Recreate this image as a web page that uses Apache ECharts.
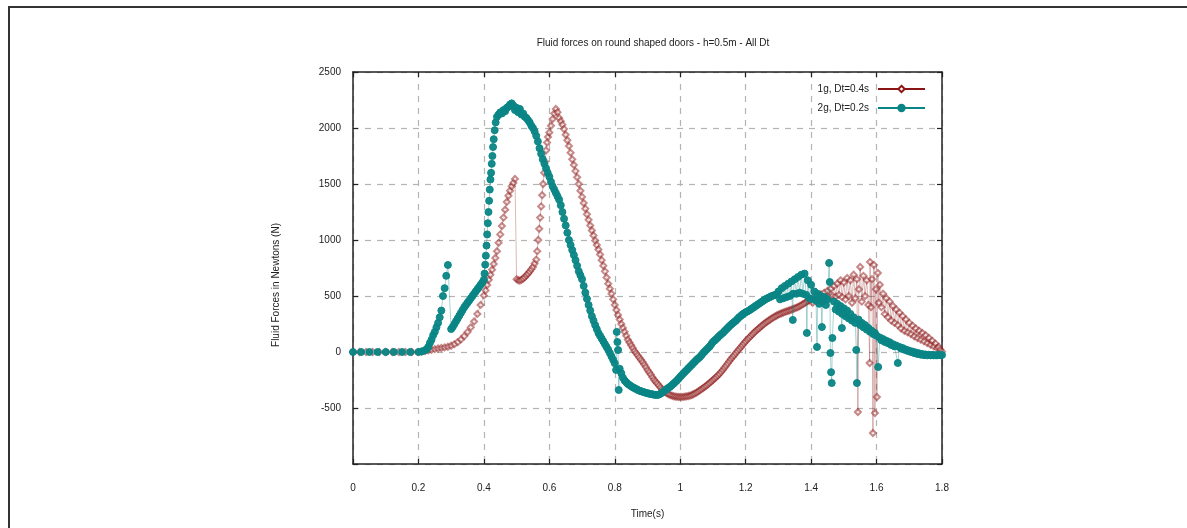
<!DOCTYPE html>
<html>
<head>
<meta charset="utf-8">
<script src="https://cdn.jsdelivr.net/npm/echarts@6/dist/echarts.min.js"></script>
<style>
html,body{margin:0;padding:0;background:#fff;}
#chart{width:1187px;height:528px;}
</style>
</head>
<body>
<div id="chart"></div>
<script>
// ---- data ----
var chartTitle = 'Fluid forces on round shaped doors - h=0.5m - All Dt';
var xName = 'Time(s)';
var yName = 'Fluid Forces in Newtons (N)';
var seriesNames = ['1g, Dt=0.4s', '2g, Dt=0.2s'];
var xTicks = [0, 0.2, 0.4, 0.6, 0.8, 1, 1.2, 1.4, 1.6, 1.8];
var yTicks = [-500, 0, 500, 1000, 1500, 2000, 2500];

// series 1 : 1g, Dt=0.4s
var t1 = [0,0.02,0.04,0.06,0.08,0.1,0.12,0.14,0.16,0.18,0.2,
0.21,0.22,0.23,0.24,0.25,0.26,0.27,0.28,0.29,0.3,0.31,0.32,0.33,0.34,0.35,0.36,0.37,0.38,0.39,
0.4,0.405,0.41,0.415,0.42,0.425,0.43,0.435,0.44,0.445,0.45,0.455,0.46,0.465,0.47,0.475,0.48,0.485,0.49,0.495,
0.5,0.505,0.51,0.515,0.52,0.525,0.53,0.535,0.54,0.545,0.55,0.555,0.56,0.563,0.566,0.569,0.572,0.575,0.578,0.581,0.584,0.587,0.59,0.593,0.596,
0.6,0.605,0.61,0.615,0.62,0.625,0.63,0.635,0.64,0.645,0.65,0.655,0.66,0.665,0.67,0.675,0.68,0.685,0.69,0.695,
0.7,0.705,0.71,0.715,0.72,0.725,0.73,0.735,0.74,0.745,0.75,0.755,0.76,0.765,0.77,0.775,0.78,0.785,0.79,0.795,
0.8,0.805,0.81,0.815,0.82,0.825,0.83,0.835,0.84,0.845,0.85,0.855,0.86,0.865,0.87,0.875,0.88,0.885,0.89,0.895,
0.9,0.905,0.91,0.915,0.92,0.925,0.93,0.935,0.94,0.945,0.95,0.955,0.96,0.965,0.97,0.975,0.98,0.985,0.99,0.995,
1.0,1.005,1.01,1.015,1.02,1.025,1.03,1.035,1.04,1.045,1.05,1.055,1.06,1.065,1.07,1.075,1.08,1.085,1.09,1.095,
1.1,1.105,1.11,1.115,1.12,1.125,1.13,1.135,1.14,1.145,1.15,1.155,1.16,1.165,1.17,1.175,1.18,1.185,1.19,1.195,
1.2,1.205,1.21,1.215,1.22,1.225,1.23,1.235,1.24,1.245,1.25,1.255,1.26,1.265,1.27,1.275,1.28,1.285,1.29,1.295,
1.3,1.305,1.31,1.315,1.32,1.325,1.33,1.335,1.34,1.345,1.35,1.355,1.36,1.365,1.37,1.375,1.38,1.385,1.39,1.395,
1.4,1.405,1.41,1.415,1.42,1.425,1.43,1.435,1.44,1.445,1.45,1.455,1.46,1.465,1.47,1.475,1.48,1.485,1.49,1.495,
1.5,1.505,1.51,1.515,1.52,1.525,1.53,1.535,1.54,1.543,1.546,1.55,1.555,1.56,1.565,1.57,1.575,1.579,1.58,1.583,1.586,1.589,1.592,1.595,1.598,
1.601,1.604,1.607,1.61,1.615,1.62,1.625,1.63,1.635,1.64,1.645,1.65,1.655,1.66,1.665,1.67,1.675,1.68,1.685,1.69,1.695,
1.7,1.705,1.71,1.715,1.72,1.725,1.73,1.735,1.74,1.745,1.75,1.755,1.76,1.765,1.77,1.775,1.78,1.785,1.79,1.795,1.8];
var f1 = [0,0,0,0,0,0,0,0,0,0,0,
3,8,14,20,26,31,36,41,47,56,70,88,112,142,178,220,272,340,420,
505,550,598,645,690,735,785,840,900,975,1050,1125,1200,1270,1340,1395,1440,1480,1510,1545,
650,640,638,645,655,668,685,700,718,738,760,790,825,900,1000,1100,1200,1300,1400,1500,1600,1700,1800,1870,1920,
1960,2020,2080,2130,2170,2140,2090,2060,2030,1990,1940,1890,1840,1780,1720,1670,1615,1560,1500,1440,
1385,1330,1280,1230,1180,1130,1085,1040,995,955,915,870,820,770,720,665,610,565,520,470,
420,375,330,290,250,215,180,145,110,85,60,35,10,-10,-30,-50,-70,-90,-112,-135,
-160,-180,-202,-225,-248,-265,-282,-300,-318,-335,-350,-360,-370,-378,-385,-390,-395,-398,-400,-401,
-402,-401,-400,-398,-396,-393,-390,-384,-377,-370,-362,-352,-342,-332,-322,-311,-300,-288,-276,-263,
-250,-237,-224,-210,-195,-178,-160,-141,-122,-102,-82,-63,-45,-28,-10,8,25,43,60,78,
95,111,126,141,156,171,185,198,210,223,236,248,260,270,280,290,300,309,318,326,
334,340,346,352,358,363,368,373,378,384,390,396,402,410,418,427,436,446,455,462,
470,440,495,455,505,465,515,475,530,485,545,490,565,500,590,495,610,510,640,490,
620,470,660,500,640,440,690,480,650,-536,560,759,450,680,500,640,420,-98,804,400,650,-723,777,-545,560,
-402,705,440,600,400,520,340,480,310,450,280,410,260,380,240,350,210,320,190,290,175,
260,160,235,140,210,125,190,110,170,95,150,80,125,65,100,50,75,35,45,20,2];

// series 2 : 2g, Dt=0.2s
var t2 = [0,0.025,0.05,0.075,0.1,0.125,0.15,0.175,0.2,
0.21,0.22,0.225,0.23,0.235,0.24,0.245,0.25,0.255,0.26,0.265,0.27,0.275,0.28,0.285,0.29,
0.3,0.305,0.31,0.315,0.32,0.325,0.33,0.335,0.34,0.345,0.35,0.355,0.36,0.365,0.37,0.375,0.38,0.385,0.39,0.395,
0.4,0.402,0.404,0.406,0.408,0.41,0.412,0.414,0.416,0.418,0.42,0.422,0.424,0.426,0.428,0.43,0.433,0.436,
0.44,0.445,0.45,0.455,0.46,0.465,0.47,0.475,0.48,0.485,0.49,0.495,
0.5,0.505,0.51,0.515,0.52,0.525,0.53,0.535,0.54,0.545,0.55,0.555,0.56,0.565,0.57,0.575,0.58,0.585,0.59,0.595,
0.6,0.605,0.61,0.615,0.62,0.625,0.63,0.635,0.64,0.645,0.65,0.655,0.66,0.665,0.67,0.675,0.68,0.685,0.69,0.695,
0.7,0.705,0.71,0.715,0.72,0.725,0.73,0.735,0.74,0.745,0.75,0.755,0.76,0.765,0.77,0.775,0.78,0.785,0.79,0.795,
0.8,0.804,0.806,0.808,0.81,0.812,0.815,0.82,0.825,0.83,0.835,0.84,0.845,0.85,0.855,0.86,0.865,0.87,0.875,0.88,0.885,0.89,0.895,
0.9,0.905,0.91,0.915,0.92,0.925,0.93,0.935,0.94,0.945,0.95,0.955,0.96,0.965,0.97,0.975,0.98,0.985,0.99,0.995,
1.0,1.005,1.01,1.015,1.02,1.025,1.03,1.035,1.04,1.045,1.05,1.055,1.06,1.065,1.07,1.075,1.08,1.085,1.09,1.095,
1.1,1.105,1.11,1.115,1.12,1.125,1.13,1.135,1.14,1.145,1.15,1.155,1.16,1.165,1.17,1.175,1.18,1.185,1.19,1.195,
1.2,1.205,1.21,1.215,1.22,1.225,1.23,1.235,1.24,1.245,1.25,1.255,1.26,1.265,1.27,1.275,1.28,1.285,1.29,1.295,
1.3,1.305,1.31,1.315,1.32,1.325,1.33,1.335,1.34,1.344,1.345,1.35,1.355,1.36,1.365,1.37,1.375,1.38,1.385,1.387,1.39,1.395,
1.4,1.405,1.41,1.415,1.418,1.42,1.425,1.43,1.433,1.435,1.44,1.445,1.45,1.455,1.457,1.459,1.461,1.463,1.465,1.47,1.475,1.48,1.485,1.49,1.494,1.495,
1.5,1.505,1.51,1.515,1.52,1.525,1.53,1.535,1.538,1.54,1.545,1.55,1.555,1.56,1.565,1.57,1.575,1.58,1.585,1.59,1.595,
1.6,1.605,1.61,1.615,1.62,1.625,1.63,1.635,1.64,1.645,1.65,1.655,1.66,1.665,1.67,1.675,1.68,1.685,1.69,1.695,
1.7,1.705,1.71,1.715,1.72,1.725,1.73,1.735,1.74,1.745,1.75,1.755,1.76,1.765,1.77,1.775,1.78,1.785,1.79,1.795,1.8];
var f2 = [0,0,0,0,0,0,0,0,0,
5,15,25,45,80,110,150,180,220,260,310,370,500,570,680,777,
205,225,250,275,300,325,350,375,400,420,440,460,480,500,520,540,560,580,600,620,
645,700,780,860,950,1050,1150,1250,1350,1450,1540,1600,1680,1750,1830,1900,1980,2050,
2100,2120,2140,2130,2160,2150,2180,2190,2210,2220,2200,2160,
2180,2140,2170,2120,2130,2100,2090,2070,2050,2020,2000,1970,1930,1880,1820,1770,1720,1680,1640,1600,
1565,1520,1480,1450,1420,1390,1360,1310,1250,1190,1130,1065,1000,955,910,865,820,770,720,685,
650,590,530,475,420,370,320,280,240,205,170,145,120,95,70,45,20,-10,-40,-70,
-100,-160,179,89,18,-339,-150,-190,-230,-255,-270,-285,-295,-305,-315,-322,-330,-338,-345,-350,-355,-360,-364,
-368,-372,-375,-378,-381,-383,-384,-380,-372,-362,-350,-340,-328,-318,-308,-295,-282,-268,-254,-238,
-222,-206,-190,-175,-160,-145,-130,-115,-100,-85,-70,-57,-45,-28,-10,5,20,35,50,70,
90,102,115,130,145,158,170,185,200,215,230,243,256,268,280,295,310,322,335,345,
355,362,370,380,390,400,410,420,430,440,450,460,470,478,485,492,500,505,510,515,
540,470,570,480,590,490,610,500,630,286,520,650,520,670,530,690,520,700,510,170,640,480,
600,470,540,460,45,520,430,500,223,450,490,420,470,795,625,-9,-180,-277,125,450,380,430,360,410,214,340,
390,320,370,300,340,280,310,260,18,-277,290,240,260,220,240,200,215,180,190,160,170,
145,-134,130,105,115,90,100,78,88,62,70,50,58,-98,45,30,35,20,22,10,
12,0,4,-10,-4,-18,-12,-24,-18,-28,-22,-30,-24,-30,-26,-30,-28,-30,-27,-28,-27];

function zip(t, f) {
  var out = [];
  for (var i = 0; i < t.length; i++) out.push([t[i], f[i]]);
  return out;
}

var red = '#8b1414';
var teal = '#0a8585';
var FONT = 'Liberation Sans, Arial, sans-serif';

var chart = echarts.init(document.getElementById('chart'), null, {renderer: 'canvas'});

function xLabel(v) { return String(Math.round(v * 10) / 10); }
function yLabel(v) { return yTicks.indexOf(v) >= 0 ? String(v) : ''; }

var option = {
  animation: false,
  backgroundColor: '#fff',
  title: {
    text: chartTitle,
    left: 648,
    top: 33,
    textAlign: 'center',
    textStyle: {fontFamily: FONT, fontSize: 10, fontWeight: 'normal', color: '#222'}
  },
  grid: {left: 353, right: 245, top: 72, bottom: 64, containLabel: false},
  legend: {
    orient: 'vertical',
    right: 256,
    top: 79,
    align: 'right',
    itemWidth: 47,
    itemHeight: 8,
    itemGap: 9,
    textStyle: {fontFamily: FONT, fontSize: 10, color: '#222', padding: [0, 4, 0, 0]},
    data: [
      {name: seriesNames[0], lineStyle: {color: red, width: 2, opacity: 1}, itemStyle: {opacity: 1}},
      {name: seriesNames[1], lineStyle: {color: teal, width: 2, opacity: 1}, itemStyle: {opacity: 1}}
    ]
  },
  xAxis: [{
    type: 'value', min: 0, max: 1.8, interval: 0.2,
    name: xName, nameLocation: 'middle', nameGap: 45,
    nameTextStyle: {fontFamily: FONT, fontSize: 10, color: '#222'},
    axisLine: {show: true, onZero: false, lineStyle: {color: '#222', width: 1.5}},
    axisTick: {show: true, inside: true, length: 5, lineStyle: {color: '#222', width: 1.2}},
    axisLabel: {formatter: xLabel, margin: 19, fontFamily: FONT, fontSize: 10, color: '#222'},
    splitLine: {show: true, lineStyle: {color: '#b4b4b4', width: 1.2, type: [6, 6]}}
  }, {
    type: 'value', min: 0, max: 1.8, interval: 0.2, position: 'top',
    axisLine: {show: true, onZero: false, lineStyle: {color: '#222', width: 1.5}},
    axisTick: {show: true, inside: true, length: 5, lineStyle: {color: '#222', width: 1.2}},
    axisLabel: {show: false},
    splitLine: {show: false}
  }],
  yAxis: [{
    type: 'value', min: -1000, max: 2500, interval: 500,
    axisLine: {show: true, onZero: false, lineStyle: {color: '#222', width: 1.5}},
    axisTick: {show: true, inside: true, length: 5, lineStyle: {color: '#222', width: 1.2}},
    axisLabel: {formatter: yLabel, margin: 12, fontFamily: FONT, fontSize: 10, color: '#222'},
    splitLine: {show: true, lineStyle: {color: '#b4b4b4', width: 1.2, type: [6, 6]}}
  }, {
    type: 'value', min: -1000, max: 2500, interval: 500, position: 'right',
    axisLine: {show: true, onZero: false, lineStyle: {color: '#222', width: 1.5}},
    axisTick: {show: true, inside: true, length: 5, lineStyle: {color: '#222', width: 1.2}},
    axisLabel: {show: false},
    splitLine: {show: false}
  }],
  series: [{
    name: seriesNames[0],
    type: 'line',
    data: zip(t1, f1),
    showAllSymbol: true,
    symbol: 'emptyDiamond',
    symbolSize: 6,
    color: red,
    lineStyle: {color: red, width: 1, opacity: 0.3},
    itemStyle: {color: red, borderColor: red, borderWidth: 1, opacity: 0.5},
    emphasis: {disabled: true},
    z: 2
  }, {
    name: seriesNames[1],
    type: 'line',
    data: zip(t2, f2),
    showAllSymbol: true,
    symbol: 'circle',
    symbolSize: 7,
    color: teal,
    lineStyle: {color: teal, width: 1, opacity: 0.35},
    itemStyle: {color: teal, borderColor: teal, borderWidth: 1, opacity: 0.95},
    emphasis: {disabled: true},
    z: 3
  }],
  graphic: [{
    type: 'rect',
    shape: {x: 9, y: 7, width: 1220, height: 570},
    style: {fill: null, stroke: '#333', lineWidth: 2},
    silent: true
  }, {
    type: 'text',
    x: 276,
    y: 285,
    rotation: Math.PI / 2,
    style: {text: yName, fontFamily: FONT, fontSize: 10, fill: '#222', align: 'center', verticalAlign: 'middle'},
    silent: true
  }]
};

chart.setOption(option);
</script>
</body>
</html>
